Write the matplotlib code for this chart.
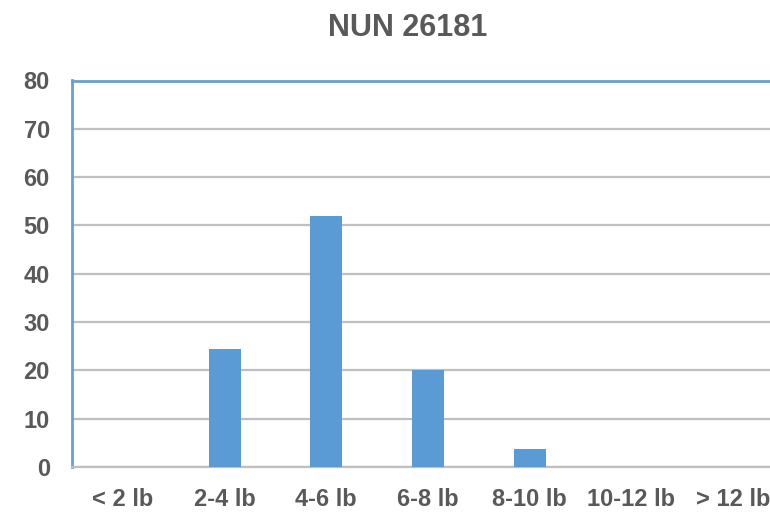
import matplotlib
matplotlib.use("Agg")
import matplotlib.pyplot as plt
from matplotlib import font_manager

categories = ["< 2 lb", "2-4 lb", "4-6 lb", "6-8 lb", "8-10 lb", "10-12 lb", "> 12 lb"]
values = [0, 24.4, 52, 20, 3.7, 0, 0]
yticks = [0, 10, 20, 30, 40, 50, 60, 70, 80]
title = "NUN 26181"

names = {f.name for f in font_manager.fontManager.ttflist}
fam = ["Liberation Sans Narrow", "DejaVu Sans"] if "Liberation Sans Narrow" in names else ["Liberation Sans", "DejaVu Sans"]
plt.rcParams["font.family"] = fam

gray = "#595959"
blue_bar = "#5B9BD5"
blue_line = "#6A9FD4"

fig = plt.figure(figsize=(7.7, 5.15), dpi=100)
ax = fig.add_axes([72/770, (515-467)/515, (784-72)/770, (467-80.5)/515])

x = list(range(len(categories)))
ax.bar(x, values, width=0.315, color=blue_bar, zorder=3)
ax.set_xlim(-0.5, 6.5)
ax.set_ylim(0, 80)
ax.set_yticks(yticks)
ax.set_xticks(x)
ax.set_xticklabels(categories)
ax.yaxis.grid(True, color="#BFBFBF", linewidth=1.6, zorder=0)
ax.set_axisbelow(True)

for s in ["left", "top"]:
    ax.spines[s].set_color(blue_line)
    ax.spines[s].set_linewidth(2)
ax.spines["right"].set_visible(False)
ax.spines["bottom"].set_color("#BFBFBF")
ax.spines["bottom"].set_linewidth(1.6)

ax.tick_params(axis="both", length=0, labelsize=17, labelcolor=gray)
ax.tick_params(axis="y", pad=16)
ax.tick_params(axis="x", pad=15)
for lbl in ax.get_xticklabels() + ax.get_yticklabels():
    lbl.set_fontweight("bold")

fig.text(408/770, 1 - 28/515, title, ha="center", va="center",
         fontsize=22, fontweight="bold", color=gray)

fig.savefig("out.png", dpi=100)
